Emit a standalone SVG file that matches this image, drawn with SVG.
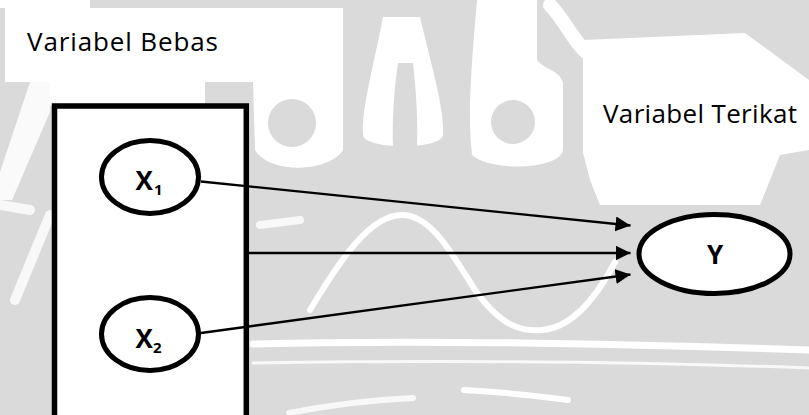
<svg xmlns="http://www.w3.org/2000/svg" width="809" height="415" viewBox="0 0 809 415">
  <style>
    .lbl { font-family: "Open Sans", "Liberation Sans", sans-serif; font-size: 26px; fill: #000; }
    .var { font-family: "Open Sans", "Liberation Sans", sans-serif; font-size: 26px; font-weight: bold; fill: #000; }
    .sub { font-size: 15px; }
    .node { fill: #fff; stroke: #000; stroke-width: 5; }
    .edge { stroke: #000; stroke-width: 2.3; fill: none; marker-end: url(#arrow); }
    .wm { fill: #dadada; }
    .wl { stroke: #fff; fill: none; stroke-linecap: round; }
  </style>
  <defs>
    <marker id="arrow" markerUnits="userSpaceOnUse" markerWidth="16" markerHeight="16" refX="15" refY="7.5" orient="auto">
      <path d="M0,0 L15,7.5 L0,15 Z" fill="#000"/>
    </marker>
  </defs>

  <!-- faint watermark background -->
  <g id="watermark">
    <rect x="0" y="0" width="809" height="415" class="wm"/>
    <rect x="0" y="0" width="90" height="8" fill="#fff"/>
    <rect x="5" y="8" width="338" height="74" fill="#fff"/>
    <rect x="50" y="82" width="155" height="24" fill="#fff"/>
    <path d="M30,82 L50,82 L50,112 L12,200 L0,200 L0,172 Z" fill="#fff" opacity="0.85"/>
    <path d="M253,82 L343,82 L343,150 C330,172 270,175 255,150 Z" fill="#fff"/>
    <circle cx="292" cy="123" r="24" class="wm"/>
    <path d="M383,17 L420,17 C430,60 445,110 443,135 C441,150 365,150 363,135 C361,110 375,60 383,17 Z" fill="#fff"/>
    <path d="M398,63 L413,63 C416,90 418,120 417,147 L393,147 C392,120 394,90 398,63 Z" class="wm"/>
    <path d="M477,0 L537,0 L537,60 C545,70 560,70 563,83 L563,150 C560,170 490,172 472,155 C468,120 470,80 477,0 Z" fill="#fff"/>
    <circle cx="513" cy="122" r="22" class="wm"/>
    <path d="M550,5 C565,20 575,45 590,55 C610,70 620,80 630,85" class="wl" stroke-width="14"/>
    <path d="M583,40 L745,33 L809,80 L809,150 L780,155 L760,205 L600,205 L590,180 L583,153 Z" fill="#fff"/>
    <path d="M310,310 C340,260 370,215 402,215 C430,215 450,250 475,290 C500,325 520,332 542,330 C570,328 595,300 615,262" class="wl" stroke-width="6"/>
    <path d="M253,344 C400,340 600,343 809,350" class="wl" stroke-width="7"/>
    <path d="M253,363 C450,360 650,362 809,368" class="wl" stroke-width="3" opacity="0.8"/>
    <path d="M260,225 L300,220" class="wl" stroke-width="8" opacity="0.8"/>
    <path d="M464,390 C500,392 540,396 568,400" class="wl" stroke-width="6"/>
    <path d="M289,413 C330,405 370,400 413,398" class="wl" stroke-width="6" opacity="0.8"/>
    <path d="M50,215 L15,300" class="wl" stroke-width="10" opacity="0.8"/>
    <path d="M0,205 L30,210" class="wl" stroke-width="10" opacity="0.8"/>
  </g>

  <!-- texts -->
  <text x="27" y="51" class="lbl" textLength="191">Variabel Bebas</text>
  <text x="603" y="122.5" class="lbl" textLength="194">Variabel Terikat</text>

  <!-- independent variables box -->
  <g id="box-bebas">
    <rect x="54.5" y="106" width="191.8" height="330" fill="#fff" stroke="#000" stroke-width="5.5"/>
  </g>

  <!-- connectors -->
  <g id="connectors">
    <line x1="201" y1="181.5" x2="630.5" y2="225.5" class="edge"/>
    <line x1="249" y1="253" x2="630.5" y2="253" class="edge"/>
    <line x1="201" y1="333" x2="630.5" y2="274.5" class="edge"/>
  </g>

  <g id="node-x1">
    <ellipse cx="150" cy="177" rx="48.5" ry="36.5" class="node"/>
    <text x="135.5" y="190" class="var">X<tspan x="154" y="194.5" class="sub">1</tspan></text>
  </g>

  <g id="node-x2">
    <ellipse cx="150" cy="334" rx="48.5" ry="36.5" class="node"/>
    <text x="135.5" y="348.3" class="var">X<tspan x="153" y="352.5" class="sub">2</tspan></text>
  </g>

  <g id="node-y">
    <ellipse cx="714.5" cy="254" rx="75.5" ry="39.5" class="node"/>
    <text x="715" y="264.3" class="var" text-anchor="middle">Y</text>
  </g>
</svg>
